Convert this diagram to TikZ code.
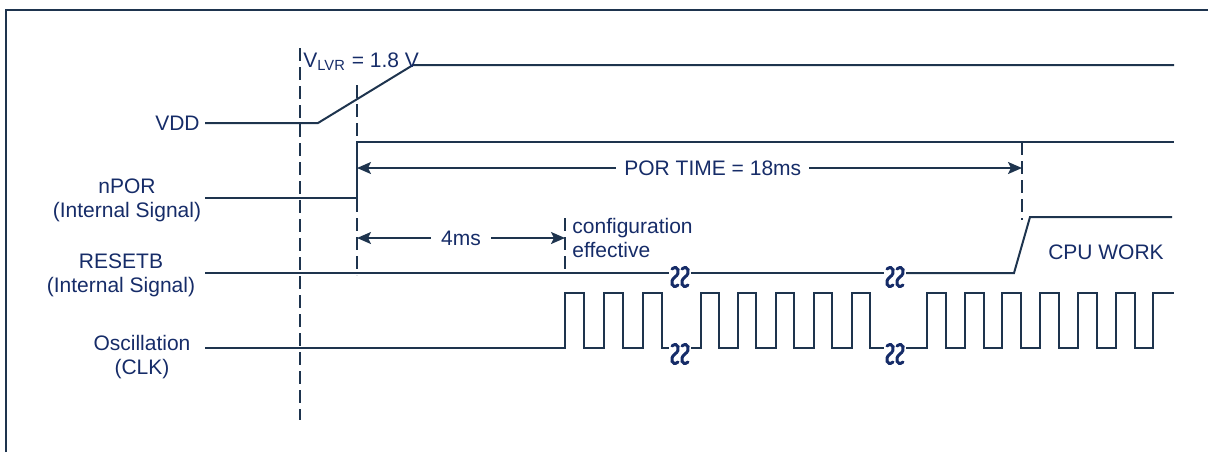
\documentclass[tikz,border=0pt]{standalone}
\usepackage{fontspec}
\setmainfont{Liberation Sans}
\usetikzlibrary{arrows.meta}
\definecolor{sigline}{RGB}{30,52,78}
\definecolor{sigtext}{RGB}{22,44,104}

\begin{document}
\begin{tikzpicture}[x=0.5pt, y=-0.5pt, >={Stealth[length=7pt,width=6pt,inset=1.5pt]},
  wave/.style={draw=sigline, line width=1pt},
  guide/.style={draw=sigline, line width=1pt, dash pattern=on 6.5pt off 3pt},
  siglabel/.style={text=sigtext, align=center, inner sep=0pt,
    font=\fontsize{10.5}{12}\selectfont},
  wavebreak/.pic={
    \foreach \d in {-5,5}
      \draw[sigtext, line width=1.5pt, line cap=round] ({\d-3},-8) .. controls ({\d+3},-13) and ({\d+6},-4) .. (\d,0)
        .. controls ({\d-6},4) and ({\d-3},13) .. ({\d+3},8);
  }]

  \useasboundingbox (0,0) rectangle (1208,452);

  % frame
  \draw[wave] (6,452) -- (6,10) -- (1208,10);

  % signal names
  \node[siglabel, anchor=east] (vdd) at (200,123) {VDD};
  \node[siglabel] (npor)   at (127,200) {nPOR\\(Internal Signal)};
  \node[siglabel] (resetb) at (121,275) {RESETB\\(Internal Signal)};
  \node[siglabel] (osc)    at (142,357) {Oscillation\\(CLK)};

  % guides
  \draw[guide] (300,48) -- (300,420);
  \draw[guide] (357,85) -- (357,275);
  \draw[guide] (565,218) -- (565,273);
  \draw[guide] (1022,142) -- (1022,220);

  % VDD
  \draw[wave] (205,123) -- (318,123) -- (413,65) -- (1174,65);
  \node[siglabel, anchor=base west] (vlvr) at (303,67) {V\textsubscript{LVR} = 1.8 V};

  % nPOR
  \draw[wave] (205,198) -- (357,198) -- (357,142) -- (1174,142);

  % RESETB
  \draw[wave] (205,273) -- (669,273);
  \draw[wave] (691,273) -- (884,273);
  \draw[wave] (906,273) -- (1014,273) -- (1030,217) -- (1172,217);
  \node[siglabel] (cpu) at (1106,252) {CPU WORK};

  % CLK
  \draw[wave] (205,348) foreach \r in {565,604,643} {
      -- (\r,348) -- (\r,293) -- ({\r+19},293) -- ({\r+19},348) } -- (669,348);
  \draw[wave] (691,348) foreach \r in {701,738,776,814,852} {
      -- (\r,348) -- (\r,293) -- ({\r+18},293) -- ({\r+18},348) } -- (884,348);
  \draw[wave] (906,348) foreach \r in {927,965,1002,1040,1078,1116} {
      -- (\r,348) -- (\r,293) -- ({\r+19},293) -- ({\r+19},348) }
      -- (1153,348) -- (1153,293) -- (1174,293);

  % breaks
  \foreach \bx in {680,895} {
    \pic at (\bx,277) {wavebreak};
    \pic at (\bx,354) {wavebreak};
  }

  % timing arrows
  \draw[wave, <->] (357,168) -- node[siglabel, pos=0.535, fill=white, inner xsep=4pt] {POR TIME = 18ms} (1022,168);
  \draw[wave, <->] (357,238) -- node[siglabel, fill=white, inner xsep=5pt] {4ms} (565,238);
  \node[siglabel, align=left, anchor=west] (cfg) at (572,238) {configuration\\effective};

\end{tikzpicture}
\end{document}
